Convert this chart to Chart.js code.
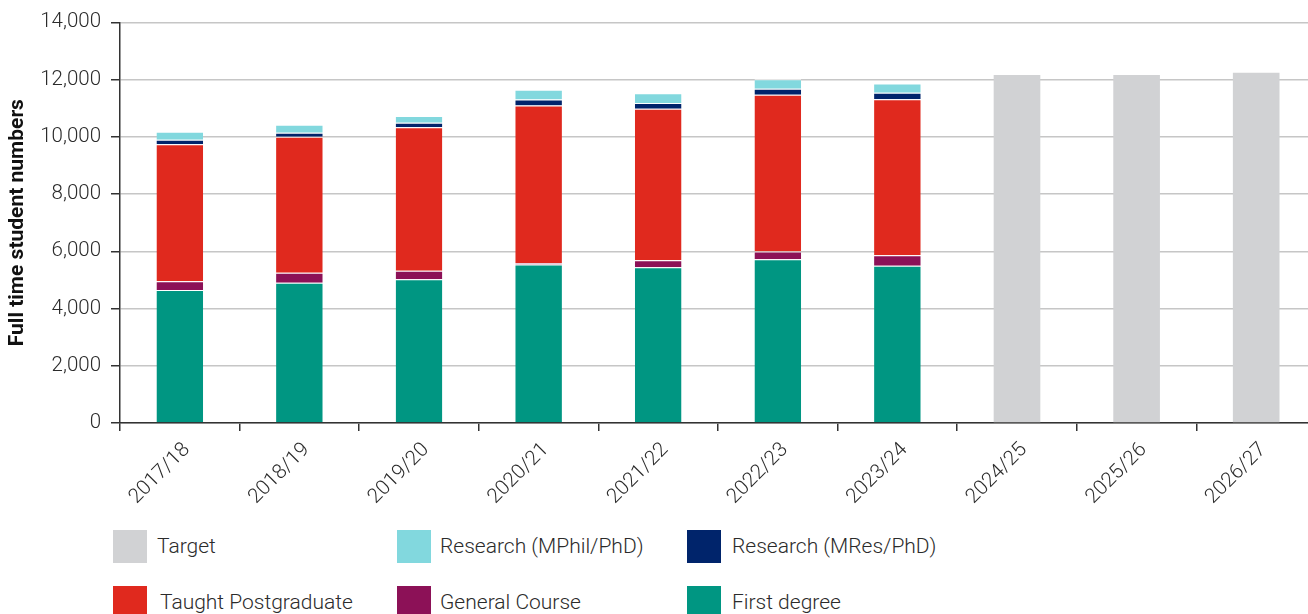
<!DOCTYPE html>
<html>
<head>
<meta charset="utf-8">
<script src="https://cdn.jsdelivr.net/npm/chart.js@4/dist/chart.umd.min.js"></script>
<style>
  html, body { margin: 0; padding: 0; background: #fff; overflow: hidden; width: 1308px; height: 614px; }
  #wrap { position: relative; width: 1308px; height: 614px; overflow: hidden; }
  #chart { position: absolute; left: 0; top: 0; }
  .leg { position: absolute; font-family: Roboto, sans-serif; font-weight: 300; font-size: 21px; color: #2b2b2b; }
  .leg .sw { position: absolute; width: 34px; height: 33px; }
  .leg .tx { position: absolute; white-space: nowrap; line-height: 33px; }
</style>
</head>
<body>
<div id="wrap">
  <canvas id="chart" width="1320" height="520"></canvas>
  <div id="legend"></div>
</div>
<script>
// Academic years on the x axis
const categories = ['2017/18', '2018/19', '2019/20', '2020/21', '2021/22', '2022/23', '2023/24', '2024/25', '2025/26', '2026/27'];

// Full time student numbers by level of study (stacked, bottom to top)
const firstDegree   = [4650, 4900, 5020, 5540, 5440, 5720, 5490, null, null, null];
const generalCourse = [300, 350, 300, 40, 250, 270, 370, null, null, null];
const taughtPG      = [4790, 4750, 5010, 5510, 5290, 5480, 5450, null, null, null];
const researchMRes  = [160, 140, 160, 210, 200, 210, 230, null, null, null];
const researchMPhil = [275, 280, 240, 340, 340, 330, 320, null, null, null];
const target        = [null, null, null, null, null, null, null, 12160, 12160, 12240];

// Y axis range
const yMin = 0, yMax = 14000, yStep = 2000;

const seriesNames = ['First degree', 'General Course', 'Taught Postgraduate', 'Research (MRes/PhD)', 'Research (MPhil/PhD)', 'Target'];
const seriesColors = ['#009682', '#8c1157', '#e0291e', '#00246b', '#82d8de', '#d1d2d4'];
const seriesData = [firstDegree, generalCourse, taughtPG, researchMRes, researchMPhil, target];

const datasets = seriesNames.map((name, i) => ({
  label: name,
  data: seriesData[i],
  backgroundColor: seriesColors[i],
  borderColor: '#ffffff',
  borderWidth: { top: i === 5 ? 0 : 1, right: 0, bottom: 0, left: 0 },
  borderSkipped: false,
  stack: 'students',
  categoryPercentage: 1.0,
  barPercentage: 0.39
}));

Chart.defaults.font.family = 'Roboto, sans-serif';

const chart = new Chart(document.getElementById('chart'), {
  type: 'bar',
  data: { labels: categories, datasets },
  options: {
    responsive: false,
    animation: false,
    devicePixelRatio: 1,
    layout: { padding: { top: 21, right: 4, left: 0, bottom: 0 } },
    plugins: { legend: { display: false }, tooltip: { enabled: false } },
    scales: {
      x: {
        stacked: true,
        grid: { drawOnChartArea: false, drawTicks: true, tickLength: 8, color: '#333', lineWidth: 1.5 },
        border: { display: true, color: '#333', width: 1.5 },
        ticks: {
          autoSkip: false, minRotation: 45, maxRotation: 45, padding: 7, labelOffset: 7,
          color: '#2b2b2b', font: { size: 20.5, weight: 300 }
        },
        afterFit: s => { s.height = 520 - 423; }
      },
      y: {
        stacked: true,
        min: yMin, max: yMax,
        ticks: { stepSize: yStep, padding: 10, color: '#2b2b2b', font: { size: 20.5, weight: 300 } },
        grid: { color: '#c6c6c6', lineWidth: 1.5, tickColor: '#333', tickLength: 9 },
        border: { display: true, color: '#333', width: 1.5 },
        title: {
          display: true, text: 'Full time student numbers', color: '#111',
          font: { size: 21, weight: 'bold' }, padding: { top: 5, bottom: 0 }
        },
        afterFit: s => { s.width = 120; }
      }
    }
  }
});

// Legend grid built from the chart's datasets
const legendOrder = [5, 4, 3, 2, 1, 0];
const colX = [113, 397, 687];
const textX = [157, 440, 732];
const rowY = [530, 586];
const legendEl = document.getElementById('legend');
legendOrder.forEach((di, k) => {
  const ds = chart.data.datasets[di];
  const col = k % 3, row = Math.floor(k / 3);
  const item = document.createElement('div');
  item.className = 'leg';
  item.style.left = '0px';
  item.style.top = rowY[row] + 'px';
  const sw = document.createElement('div');
  sw.className = 'sw';
  sw.style.left = colX[col] + 'px';
  sw.style.top = '0px';
  sw.style.background = ds.backgroundColor;
  const tx = document.createElement('div');
  tx.className = 'tx';
  tx.style.left = (textX[col] + (row === 1 && col === 0 ? 3 : 0)) + 'px';
  tx.style.top = '0px';
  tx.textContent = ds.label;
  item.appendChild(sw);
  item.appendChild(tx);
  legendEl.appendChild(item);
});
</script>
</body>
</html>
